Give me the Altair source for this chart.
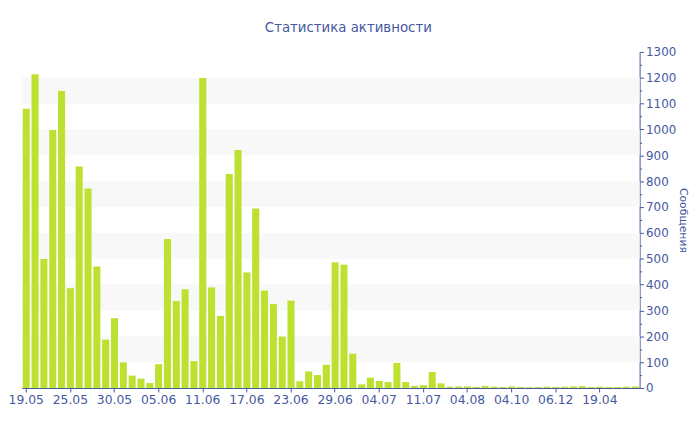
import altair as alt
import pandas as pd

# ---- data ----
tick_labels = ["19.05", "25.05", "30.05", "05.06", "11.06", "17.06", "23.06",
               "29.06", "04.07", "11.07", "04.08", "04.10", "06.12", "19.04"]

messages = [1080, 1214, 499, 998, 1149, 386, 857, 772, 470, 187,
            270, 99, 48, 36, 19, 92, 576, 336, 382, 104,
            1199, 389, 279, 828, 921, 447, 694, 377, 325, 199,
            338, 26, 64, 50, 90, 486, 477, 133, 14, 40,
            27, 23, 97, 23, 8, 11, 62, 18, 5, 6,
            6, 4, 8, 5, 4, 6, 4, 3, 4, 5,
            4, 5, 6, 7, 4, 5, 4, 4, 5, 6]

stripe_lo = [100, 300, 500, 700, 900, 1100]
stripe_hi = [200, 400, 600, 800, 1000, 1200]

y_ticks = list(range(0, 1301, 50))
x_tick_idx = list(range(0, len(messages), 5))

# ---- tables ----
df = pd.DataFrame({"i": list(range(len(messages))), "v": messages})
stripes = pd.DataFrame({"lo": stripe_lo, "hi": stripe_hi})

blue = "#4558a0"
font = "DejaVu Sans"
label_js = "[" + ",".join("'%s'" % s for s in tick_labels) + "]"

yscale = alt.Scale(domain=[0, 1300], nice=False, zero=True)
yaxis = alt.Axis(
    orient="right", values=y_ticks, format="d",
    labelExpr="datum.value % 100 == 0 ? datum.label : ''",
    tickSize={"condition": {"test": "datum.value % 100 == 0", "value": 4}, "value": 2},
    grid=False, domainColor=blue, tickColor=blue, labelColor=blue,
    labelFont=font, labelFontSize=12, labelPadding=2,
    title="Сообщения", titleColor=blue, titleFont=font, titleFontSize=11,
    titleFontWeight="normal", titleAngle=90, titlePadding=2,
)

bg = alt.Chart(stripes).mark_rect(color="#f8f8f8").encode(
    y=alt.Y("lo:Q", scale=yscale, axis=yaxis),
    y2="hi:Q",
)

bars = alt.Chart(df).mark_bar(color="#bde031").encode(
    x=alt.X(
        "i:O",
        scale=alt.Scale(paddingInner=0.2, paddingOuter=0.1),
        axis=alt.Axis(
            values=x_tick_idx,
            labelExpr=label_js + "[datum.value / 5]",
            labelAngle=0, title=None, grid=False,
            domainColor=blue, tickColor=blue, labelColor=blue,
            labelFont=font, labelFontSize=12.5, tickSize=4, labelPadding=2,
        ),
    ),
    y=alt.Y("v:Q", scale=yscale, axis=yaxis),
)

chart = (
    alt.layer(bg, bars, view=alt.ViewBackground(strokeWidth=0, stroke="transparent"))
    .properties(
        width=625, height=340,
        autosize=alt.AutoSizeParams(type="none"),
        padding={"left": 14, "top": 42, "right": 53, "bottom": 35},
        title=alt.TitleParams(
            "Статистика активности", font=font, fontSize=13.5,
            fontWeight="normal", color=blue, frame="bounds",
            anchor="middle", offset=12,
        ),
    )
    .configure_view(strokeWidth=0, stroke="transparent")
    .configure(background="white")
)

chart.save("out.html", embed_options={"renderer": "svg", "actions": False})
